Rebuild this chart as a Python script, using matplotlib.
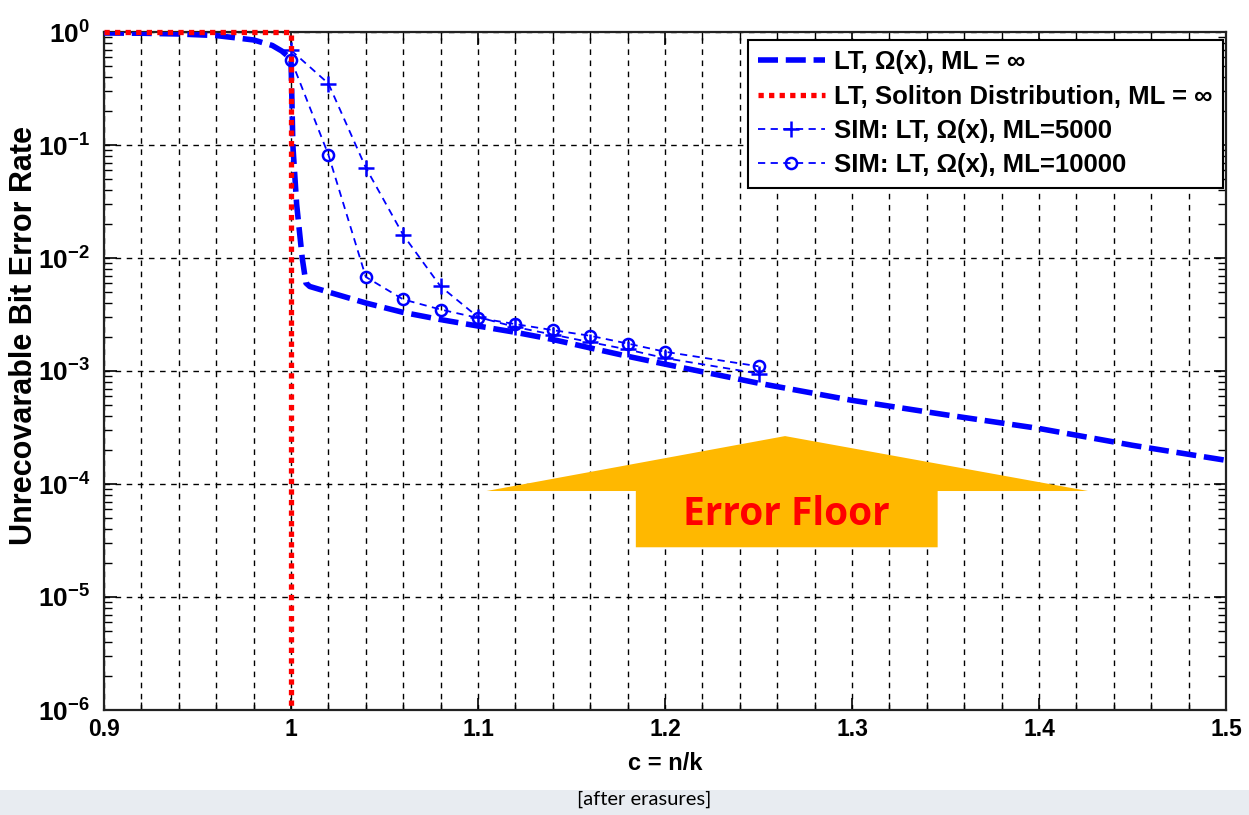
import matplotlib
matplotlib.use("Agg")
import matplotlib.pyplot as plt
import matplotlib.ticker as mticker
from matplotlib.patches import Polygon, Rectangle
import numpy as np

plt.rcParams['font.family'] = ['Liberation Sans', 'DejaVu Sans']
plt.rcParams['font.weight'] = 'bold'
plt.rcParams['mathtext.fontset'] = 'custom'
plt.rcParams['mathtext.rm'] = 'Liberation Sans:bold'
plt.rcParams['mathtext.bf'] = 'Liberation Sans:bold'
plt.rcParams['mathtext.default'] = 'bf'

# ---- data ----
lt_x = [0.9, 0.92, 0.94, 0.96, 0.97, 0.98, 0.99, 0.995, 1.0, 1.001, 1.003, 1.006, 1.008,
        1.01, 1.02, 1.04, 1.06, 1.08, 1.1, 1.12, 1.14, 1.16, 1.18, 1.2, 1.25, 1.3, 1.35,
        1.4, 1.45, 1.5]
lt_y = [0.98, 0.975, 0.96, 0.93, 0.89, 0.85, 0.76, 0.68, 0.58, 0.1, 0.03, 0.01, 6.0e-3,
        5.6e-3, 5.0e-3, 4.0e-3, 3.3e-3, 2.85e-3, 2.5e-3, 2.2e-3, 1.9e-3, 1.6e-3, 1.35e-3,
        1.15e-3, 7.8e-4, 5.5e-4, 4.1e-4, 3.1e-4, 2.2e-4, 1.62e-4]

sol_x = [0.9, 1.0, 1.0]
sol_y = [1.0, 1.0, 1e-6]

sim5000_x = [1.0, 1.02, 1.04, 1.06, 1.08, 1.1, 1.12, 1.14, 1.16, 1.18, 1.2, 1.25]
sim5000_y = [0.69, 0.35, 0.063, 0.016, 5.6e-3, 3.0e-3, 2.45e-3, 2.1e-3, 1.8e-3, 1.55e-3,
             1.3e-3, 9.5e-4]

sim10000_x = [1.0, 1.02, 1.04, 1.06, 1.08, 1.1, 1.12, 1.14, 1.16, 1.18, 1.2, 1.25]
sim10000_y = [0.57, 0.082, 6.8e-3, 4.3e-3, 3.5e-3, 2.95e-3, 2.6e-3, 2.3e-3, 2.05e-3,
              1.75e-3, 1.48e-3, 1.1e-3]

labels = [r'LT, Ω(x), ML = ∞', r'LT, Soliton Distribution, ML = ∞',
          r'SIM: LT, Ω(x), ML=5000', r'SIM: LT, Ω(x), ML=10000']
x_ticks = [0.9, 1.0, 1.1, 1.2, 1.3, 1.4, 1.5]
x_ticklabels = ['0.9', '1', '1.1', '1.2', '1.3', '1.4', '1.5']
y_ticks = [1e-6, 1e-5, 1e-4, 1e-3, 1e-2, 1e-1, 1e0]

# ---- figure ----
fig = plt.figure(figsize=(12.49, 8.15), dpi=100)
ax = fig.add_axes([104/1249, 1-710/815, 1122/1249, 678/815])
ax.set_yscale('log')
ax.set_xlim(0.9, 1.5)
ax.set_ylim(1e-6, 1e0)

blue = '#0000FF'
ax.plot(lt_x, lt_y, color=blue, lw=4.0, dashes=(3.6, 1.4), label=labels[0], zorder=4)
ax.plot(sol_x, sol_y, color='#FF0000', lw=3.8, dashes=(1.0, 1.0), label=labels[1],
        zorder=5, clip_on=False)
ax.plot(sim5000_x, sim5000_y, color=blue, lw=1.3, dashes=(4, 3), marker='+', ms=12,
        mew=1.8, label=labels[2], zorder=4)
ax.plot(sim10000_x, sim10000_y, color=blue, lw=1.3, dashes=(4, 3), marker='o', ms=8,
        mfc='none', mew=1.8, label=labels[3], zorder=4)

# ticks
ax.set_xticks(x_ticks)
ax.set_xticklabels(x_ticklabels)
ax.xaxis.set_minor_locator(mticker.MultipleLocator(0.02))
ax.set_yticks(y_ticks)
ax.yaxis.set_major_formatter(mticker.FuncFormatter(
    lambda v, p: r'$10^{%d}$' % int(round(np.log10(v)))))
ax.yaxis.set_minor_locator(mticker.LogLocator(base=10, subs=np.arange(2, 10)))
ax.yaxis.set_minor_formatter(mticker.NullFormatter())
ax.tick_params(which='both', direction='in', top=True, right=True, color='black')
ax.tick_params(which='major', length=9, width=1.2)
ax.tick_params(which='minor', length=6, width=1.0)
ax.tick_params(axis='x', which='major', labelsize=16.5, pad=6)
ax.tick_params(axis='y', which='major', labelsize=19, pad=10)
for lab in ax.get_xticklabels():
    lab.set_fontweight('bold')

ax.grid(True, which='major', axis='y', color='black', ls=(0, (4, 4)), lw=1.0)
ax.grid(True, which='both', axis='x', color='black', ls=(0, (4, 4)), lw=1.0)
for s in ax.spines.values():
    s.set_linewidth(1.6)
    s.set_color('#222222')

ax.set_xlabel('c = n/k', fontsize=17, fontweight='bold', labelpad=8)
ax.set_ylabel('Unrecovarable Bit Error Rate', fontsize=22, fontweight='bold')
ax.yaxis.set_label_coords(-0.058, 0.553)

leg = ax.legend(loc='upper right', bbox_to_anchor=(0.997, 0.988), fontsize=18.5,
                fancybox=False, framealpha=1, edgecolor='black', handlelength=2.6,
                borderpad=0.4, labelspacing=0.4, handletextpad=0.35, borderaxespad=0)
leg.get_frame().set_linewidth(1.5)
for t in leg.get_texts():
    t.set_fontweight('bold')

# Error floor arrow (axes fraction)
arrow = Polygon([(0.607, 0.404), (0.877, 0.323), (0.743, 0.323), (0.743, 0.240),
                 (0.474, 0.240), (0.474, 0.323), (0.341, 0.323)],
                closed=True, transform=ax.transAxes, facecolor='#FFB800',
                edgecolor='none', zorder=6)
ax.add_patch(arrow)
ax.text(0.6085, 0.289, 'Error Floor', transform=ax.transAxes, ha='center', va='center',
        color='#FF0000', fontsize=28, fontweight='bold', family=['Open Sans', 'DejaVu Sans'],
        zorder=7)

# bottom caption band
fig.patches.append(Rectangle((0, 0), 1, 25/815, transform=fig.transFigure,
                             facecolor='#E8ECF1', edgecolor='none', zorder=0))
fig.text(644/1249, 1-799/815, '[after erasures]', ha='center', va='center',
         fontsize=14.5, fontweight='normal', family=['Lato', 'DejaVu Sans'])

fig.savefig('out.png', dpi=100)
